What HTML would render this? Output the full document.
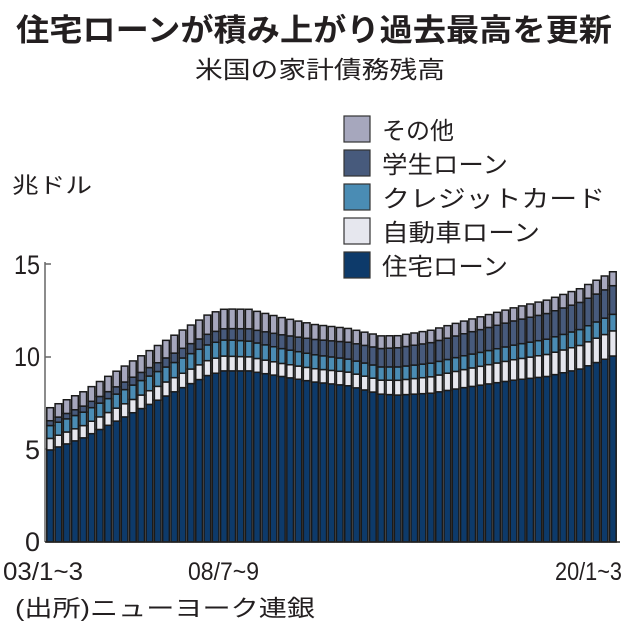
<!DOCTYPE html>
<html><head><meta charset="utf-8"><style>
html,body{margin:0;padding:0;background:#fff;}
svg{display:block;}
text{font-family:"Liberation Sans","Noto Sans CJK JP",sans-serif;fill:#231f20;}
</style></head><body>
<svg id="s" width="638" height="631" viewBox="0 0 638 631" xmlns="http://www.w3.org/2000/svg">
<text x="16" y="41" font-size="31" font-weight="bold" textLength="596" lengthAdjust="spacingAndGlyphs">住宅ローンが積み上がり過去最高を更新</text>
<text x="195" y="78" font-size="24" textLength="250" lengthAdjust="spacingAndGlyphs">米国の家計債務残高</text>
<text x="12" y="193" font-size="22" textLength="80" lengthAdjust="spacingAndGlyphs">兆ドル</text>
<g stroke="#333" stroke-width="1.2">
<rect x="344" y="116" width="26" height="26" fill="#a6a7bd"/>
<rect x="344" y="150" width="26" height="26" fill="#475a7c"/>
<rect x="344" y="184" width="26" height="26" fill="#4a8cb4"/>
<rect x="344" y="218" width="26" height="26" fill="#e6e7ee"/>
<rect x="344" y="252" width="26" height="26" fill="#0d3a6a"/>
</g>
<g font-size="24">
<text x="382" y="139" textLength="72" lengthAdjust="spacingAndGlyphs">その他</text>
<text x="382" y="173" textLength="126" lengthAdjust="spacingAndGlyphs">学生ローン</text>
<text x="382" y="207" textLength="223" lengthAdjust="spacingAndGlyphs">クレジットカード</text>
<text x="382" y="241" textLength="158" lengthAdjust="spacingAndGlyphs">自動車ローン</text>
<text x="382" y="275" textLength="126" lengthAdjust="spacingAndGlyphs">住宅ローン</text>
</g>
<g font-size="27" text-anchor="end">
<text x="40" y="274" textLength="26" lengthAdjust="spacingAndGlyphs">15</text>
<text x="40" y="366" textLength="26" lengthAdjust="spacingAndGlyphs">10</text>
<text x="40" y="459">5</text>
<text x="40" y="551">0</text>
</g>
<g stroke="#666" stroke-width="1.5">
<line x1="45" y1="262" x2="45" y2="542"/>
<line x1="45" y1="264" x2="51" y2="264"/>
<line x1="45" y1="357" x2="51" y2="357"/>
<line x1="45" y1="449" x2="51" y2="449"/>
</g>
<g id="bars"></g>
<line x1="45" y1="542" x2="620" y2="542" stroke="#222" stroke-width="1.5"/>
<g font-size="25">
<text x="3" y="580" textLength="80" lengthAdjust="spacingAndGlyphs">03/1~3</text>
<text x="188" y="580" textLength="71" lengthAdjust="spacingAndGlyphs">08/7~9</text>
<text x="555" y="580" textLength="67" lengthAdjust="spacingAndGlyphs">20/1~3</text>
</g>
<text x="15" y="616" font-size="23" textLength="300" lengthAdjust="spacingAndGlyphs">(出所)ニューヨーク連銀</text>
</svg>
<script>
function interp(a,i){var k=Object.keys(a).map(Number).sort(function(x,y){return x-y});
for(var j=0;j<k.length-1;j++){if(i>=k[j]&&i<=k[j+1]){var t=(i-k[j])/(k[j+1]-k[j]);return a[k[j]]+(a[k[j+1]]-a[k[j]])*t;}}return a[k[k.length-1]];}
var M={0:4.95,4:5.6,8:6.5,12:7.4,16:8.3,19:8.95,21:9.2,24:9.2,28:8.9,32:8.6,36:8.4,40:7.95,42:7.9,46:8.0,50:8.3,56:8.7,60:8.9,64:9.3,68:10.0};
var A={0:0.62,20:0.81,28:0.7,40:0.75,56:1.1,68:1.35};
var C={0:0.69,22:0.87,36:0.7,52:0.75,68:0.89};
var S={0:0.26,22:0.62,40:0.99,56:1.3,68:1.54};
var O={0:0.7,20:1.05,24:1.05,32:0.8,42:0.65,68:0.75};
var cols=["#0d3a6a","#e6e7ee","#4a8cb4","#475a7c","#a6a7bd"];
var g=document.getElementById("bars"),h="";
var x0=46,pitch=571/69,py=18.6,base=542;
for(var i=0;i<69;i++){var vals=[interp(M,i),interp(A,i),interp(C,i),interp(S,i),interp(O,i)];
var y=base,x=x0+i*pitch;
for(var j=0;j<5;j++){var hh=vals[j]*py;y-=hh;
h+='<rect x="'+(x+0.8).toFixed(2)+'" y="'+y.toFixed(2)+'" width="'+(pitch-1.6).toFixed(2)+'" height="'+hh.toFixed(2)+'" fill="'+cols[j]+'" stroke="#1a1a1a" stroke-width="1.5"/>';}}
g.innerHTML=h;
</script>
</body></html>
